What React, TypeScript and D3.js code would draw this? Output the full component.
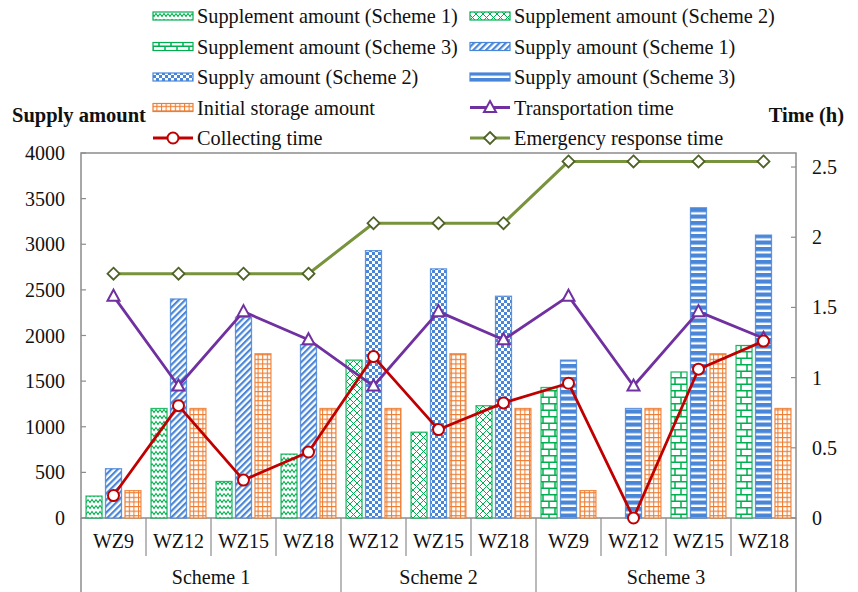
import React from 'react';
import * as d3 from 'd3';

const categories = ['WZ9', 'WZ12', 'WZ15', 'WZ18', 'WZ12', 'WZ15', 'WZ18', 'WZ9', 'WZ12', 'WZ15', 'WZ18'];
const schemeOf = [0, 0, 0, 0, 1, 1, 1, 2, 2, 2, 2];
const schemes = ['Scheme 1', 'Scheme 2', 'Scheme 3'];
const supplementAmount = [240, 1200, 400, 700, 1730, 940, 1230, 1430, 0, 1600, 1890];
const supplyAmount = [540, 2400, 2200, 1900, 2930, 2730, 2430, 1730, 1200, 3400, 3100];
const initialStorage = [300, 1200, 1800, 1200, 1200, 1800, 1200, 300, 1200, 1800, 1200];
const transportationTime = [1.58, 0.94, 1.47, 1.27, 0.94, 1.47, 1.27, 1.58, 0.94, 1.47, 1.28];
const collectingTime = [0.16, 0.8, 0.27, 0.47, 1.15, 0.63, 0.82, 0.96, 0, 1.06, 1.26];
const emergencyTime = [1.74, 1.74, 1.74, 1.74, 2.1, 2.1, 2.1, 2.54, 2.54, 2.54, 2.54];
const leftTicks = [0, 500, 1000, 1500, 2000, 2500, 3000, 3500, 4000];
const rightTicks = [0, 0.5, 1, 1.5, 2, 2.5];

const GREEN = '#00B050';
const BLUE = '#4A86D8';
const ORANGE = '#ED7D31';
const RED = '#C00000';
const PURPLE = '#7030A0';
const OLIVE = '#77933C';
const OLIVE_DARK = '#4F6228';
const AXIS = '#8C8C8C';
const FONT = "'Liberation Serif', 'Times New Roman', serif";
const FS = 20;
const LFS = 20.3;

const supplementPatterns = ['pSup1', 'pSup2', 'pSup3'];
const supplyPatterns = ['pSupply1', 'pSupply2', 'pSupply3'];

const M = { left: 81, right: 796, top: 153, bottom: 518 };

const x = d3.scaleBand<number>().domain(d3.range(categories.length)).range([M.left, M.right]).padding(0);
const sub = d3.scaleBand<string>().domain(['sup', 'supply', 'init']).range([0, x.bandwidth()]).paddingInner(0.18).paddingOuter(0.26);
const yL = d3.scaleLinear().domain([0, 4000]).range([M.bottom, M.top]);
const yR = d3.scaleLinear().domain([0, 2.6]).range([M.bottom, M.top]);

const diamond = 'M0,-6L6,0L0,6L-6,0Z';
const triangle = 'M0,-6.5L6,4.5L-6,4.5Z';

function Marker({ kind, cx, cy }: { kind: string; cx: number; cy: number }) {
  if (kind === 'circle') return <circle cx={cx} cy={cy} r={5.5} fill="white" stroke={RED} strokeWidth={2} />;
  if (kind === 'triangle') return <path d={triangle} transform={`translate(${cx},${cy})`} fill="white" stroke={PURPLE} strokeWidth={2} />;
  return <path d={diamond} transform={`translate(${cx},${cy})`} fill="white" stroke={OLIVE_DARK} strokeWidth={1.8} />;
}

export default function App() {
  const cx = (i: number) => (x(i) as number) + x.bandwidth() / 2;
  const lines = [
    { name: 'Emergency response time', data: emergencyTime, color: OLIVE, kind: 'diamond', w: 3 },
    { name: 'Transportation time', data: transportationTime, color: PURPLE, kind: 'triangle', w: 2.8 },
    { name: 'Collecting time', data: collectingTime, color: RED, kind: 'circle', w: 2.8 },
  ];
  const lineGen = (data: number[]) =>
    d3.line<number>().x((_, i) => cx(i)).y((d) => yR(d))(data) as string;

  const legend = [
    { label: 'Supplement amount (Scheme 1)', fill: 'pSup1', stroke: GREEN },
    { label: 'Supplement amount (Scheme 2)', fill: 'pSup2', stroke: GREEN },
    { label: 'Supplement amount (Scheme 3)', fill: 'pSup3', stroke: GREEN },
    { label: 'Supply amount (Scheme 1)', fill: 'pSupply1', stroke: BLUE },
    { label: 'Supply amount (Scheme 2)', fill: 'pSupply2', stroke: BLUE },
    { label: 'Supply amount (Scheme 3)', fill: 'pSupply3', stroke: BLUE },
    { label: 'Initial storage amount', fill: 'pInit', stroke: ORANGE },
    { label: 'Transportation time', line: PURPLE, kind: 'triangle' },
    { label: 'Collecting time', line: RED, kind: 'circle' },
    { label: 'Emergency response time', line: OLIVE, kind: 'diamond' },
  ];
  const legendCols = [153, 470];
  const legendRows = [16, 46.5, 77, 107.5, 138];

  const schemeStarts: number[] = [];
  const schemeEnds: number[] = [];
  schemes.forEach((_, s) => {
    const idx = categories.map((_, i) => i).filter((i) => schemeOf[i] === s);
    schemeStarts.push(x(idx[0]) as number);
    schemeEnds.push((x(idx[idx.length - 1]) as number) + x.bandwidth());
  });

  return (
    <svg width={858} height={592} style={{ position: 'absolute', left: 0, top: 0, background: 'white', fontFamily: FONT }}>
      <defs>
        <pattern id="pSup1" patternUnits="userSpaceOnUse" width={8} height={6}>
          <rect width={8} height={6} fill="white" />
          <path d="M0,1.5 L2,4.5 L4,1.5 L6,4.5 L8,1.5" fill="none" stroke={GREEN} strokeWidth={1.1} />
        </pattern>
        <pattern id="pSup2" patternUnits="userSpaceOnUse" width={7} height={7}>
          <rect width={7} height={7} fill="white" />
          <path d="M0,0 L7,7 M7,0 L0,7" fill="none" stroke={GREEN} strokeWidth={1} />
        </pattern>
        <pattern id="pSup3" patternUnits="userSpaceOnUse" width={12} height={13}>
          <rect width={12} height={13} fill="white" />
          <path d="M0,0.75 H12 M0,7.25 H12 M3,0 V7 M9,6.5 V13" fill="none" stroke={GREEN} strokeWidth={1.5} />
        </pattern>
        <pattern id="pSupply1" patternUnits="userSpaceOnUse" width={4.5} height={4.5} patternTransform="rotate(45)">
          <rect width={4.5} height={4.5} fill="white" />
          <rect width={2.2} height={4.5} fill={BLUE} />
        </pattern>
        <pattern id="pSupply2" patternUnits="userSpaceOnUse" width={6} height={6}>
          <rect width={6} height={6} fill="white" />
          <rect width={3} height={3} fill={BLUE} />
          <rect x={3} y={3} width={3} height={3} fill={BLUE} />
        </pattern>
        <pattern id="pSupply3" patternUnits="userSpaceOnUse" width={6.5} height={6.5}>
          <rect width={6.5} height={6.5} fill="white" />
          <rect width={6.5} height={4.2} fill={BLUE} />
        </pattern>
        <pattern id="pInit" patternUnits="userSpaceOnUse" width={4.6} height={4.6}>
          <rect width={4.6} height={4.6} fill="white" />
          <path d="M0.5,0 V4.6 M0,0.5 H4.6" fill="none" stroke={ORANGE} strokeWidth={1.1} />
        </pattern>
      </defs>

      <rect x={M.left} y={M.top} width={M.right - M.left} height={M.bottom - M.top} fill="none" stroke={AXIS} strokeWidth={1.5} />

      {leftTicks.map((t) => (
        <g key={'l' + t}>
          <line x1={M.left} x2={M.left + 5} y1={yL(t)} y2={yL(t)} stroke={AXIS} strokeWidth={1.2} />
          <text x={65} y={yL(t)} textAnchor="end" dominantBaseline="central" fontSize={FS} fill="#111">{t}</text>
        </g>
      ))}
      {rightTicks.map((t) => (
        <g key={'r' + t}>
          <line x1={M.right - 5} x2={M.right} y1={yR(t)} y2={yR(t)} stroke={AXIS} strokeWidth={1.2} />
          <text x={812} y={yR(t)} textAnchor="start" dominantBaseline="central" fontSize={FS} fill="#111">{t}</text>
        </g>
      ))}
      <text x={12} y={115} dominantBaseline="central" fontSize={20.5} fontWeight="bold" fill="#111">Supply amount</text>
      <text x={844} y={115} textAnchor="end" dominantBaseline="central" fontSize={20.5} fontWeight="bold" fill="#111">Time (h)</text>

      {categories.map((_, i) => {
        const gx = x(i) as number;
        const s = schemeOf[i];
        const bars = [
          { key: 'sup', v: supplementAmount[i], fill: supplementPatterns[s], stroke: GREEN },
          { key: 'supply', v: supplyAmount[i], fill: supplyPatterns[s], stroke: BLUE },
          { key: 'init', v: initialStorage[i], fill: 'pInit', stroke: ORANGE },
        ];
        return (
          <g key={'g' + i}>
            {bars.filter((b) => b.v > 0).map((b) => (
              <rect
                key={b.key}
                x={gx + (sub(b.key) as number)}
                y={yL(b.v)}
                width={sub.bandwidth()}
                height={yL(0) - yL(b.v)}
                fill={`url(#${b.fill})`}
                stroke={b.stroke}
                strokeOpacity={0.85}
                strokeWidth={1.3}
              />
            ))}
          </g>
        );
      })}

      {lines.map((l) => (
        <g key={l.name}>
          <path d={lineGen(l.data)} fill="none" stroke={l.color} strokeWidth={l.w} strokeLinejoin="round" />
          {l.data.map((d, i) => (
            <Marker key={i} kind={l.kind} cx={cx(i)} cy={yR(d)} />
          ))}
        </g>
      ))}

      {categories.map((c, i) => (
        <g key={'c' + i}>
          {i > 0 && <line x1={x(i) as number} x2={x(i) as number} y1={M.bottom} y2={schemeStarts.includes(x(i) as number) ? 592 : 556} stroke={AXIS} strokeWidth={1.2} />}
          <text x={cx(i)} y={541} textAnchor="middle" dominantBaseline="central" fontSize={FS} fill="#111">{c}</text>
        </g>
      ))}
      <line x1={M.left} x2={M.left} y1={M.bottom} y2={592} stroke={AXIS} strokeWidth={1.5} />
      <line x1={M.right} x2={M.right} y1={M.bottom} y2={592} stroke={AXIS} strokeWidth={1.5} />
      {schemes.map((s, k) => (
        <text key={s} x={(schemeStarts[k] + schemeEnds[k]) / 2} y={577} textAnchor="middle" dominantBaseline="central" fontSize={FS} fill="#111">{s}</text>
      ))}

      {legend.map((e, k) => {
        const lx = legendCols[k % 2];
        const ly = legendRows[Math.floor(k / 2)];
        return (
          <g key={e.label}>
            {e.line ? (
              <g>
                <line x1={lx} x2={lx + 40} y1={ly} y2={ly} stroke={e.line} strokeWidth={2.8} />
                <Marker kind={e.kind as string} cx={lx + 20} cy={ly} />
              </g>
            ) : (
              <rect x={lx} y={ly - 4} width={40} height={8} fill={`url(#${e.fill})`} stroke={e.stroke} strokeWidth={1.2} />
            )}
            <text x={lx + 44} y={ly} dominantBaseline="central" fontSize={LFS} fill="#111">{e.label}</text>
          </g>
        );
      })}
    </svg>
  );
}
